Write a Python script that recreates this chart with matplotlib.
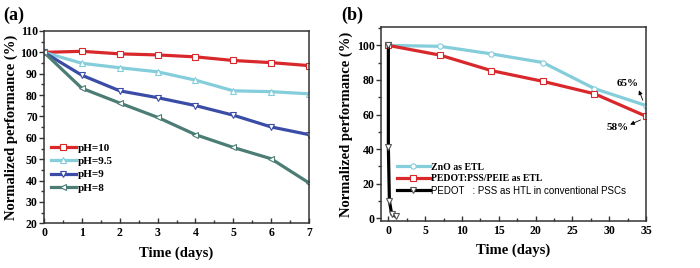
import matplotlib
matplotlib.use("Agg")
import matplotlib.pyplot as plt
from matplotlib.ticker import MultipleLocator

plt.rcParams['font.family'] = ['Liberation Serif', 'DejaVu Serif']
plt.rcParams['font.weight'] = 'bold'

# ---- data panel (a)
days_a = [0, 1, 2, 3, 4, 5, 6, 7]
ph10 = [100, 100.5, 99.3, 98.8, 97.9, 96.2, 95.2, 93.8]
ph95 = [100, 94.9, 92.8, 90.9, 87.0, 82.0, 81.6, 80.6]
ph9 = [100, 89.3, 82.0, 78.8, 75.1, 70.6, 65.1, 61.5]
ph8 = [100, 83.2, 76.3, 69.6, 61.5, 55.5, 50.2, 38.9]
labels_a = ['pH=10', 'pH=9.5', 'pH=9', 'pH=8']

# ---- data panel (b)
days_b = [0, 7, 14, 21, 28, 35]
zno = [100, 99.5, 95.1, 90.1, 75.0, 65.2]
peie = [100, 94.4, 85.4, 79.2, 72.0, 59.0]
days_htl = [0, 0, 0.14, 0.45, 1.0]
htl = [100, 41, 10, 2.3, 1.0]
labels_b = ['ZnO as ETL', 'PEDOT:PSS/PEIE as ETL', 'PEDOT   : PSS as HTL in conventional PSCs']

c_red = '#d8282c'
c_cyan = '#84cddb'
c_blue = '#3a4ca6'
c_teal = '#4c7d74'
spine_c = '#333333'

fig = plt.figure(figsize=(7.0, 2.68), dpi=100)
ax1 = fig.add_axes([44/700, 1-223.3/268, (309-44)/700, (223.3-31)/268])
ax2 = fig.add_axes([381/700, 1-220.7/268, (646-381)/700, (220.7-27.3)/268])

lw = 2.3
ms = 3.8
series_a = [(ph10, c_red, 's'), (ph95, c_cyan, '^'), (ph9, c_blue, 'v'), (ph8, c_teal, '<')]
for (vals, col, mk), lab in zip(series_a, labels_a):
    ax1.plot(days_a, vals, color=col, lw=lw, marker=mk, ms=ms, mfc='white',
             mec=col, mew=0.8, label=lab)

ax1.set_xlim(0, 7)
ax1.set_ylim(20, 110)
ax1.xaxis.set_major_locator(MultipleLocator(1))
ax1.xaxis.set_minor_locator(MultipleLocator(0.5))
ax1.yaxis.set_major_locator(MultipleLocator(10))
ax1.yaxis.set_minor_locator(MultipleLocator(5))
ax1.set_xlabel('Time (days)', fontsize=10.5, fontweight='bold', labelpad=5)
ax1.set_ylabel('Normalized performance (%)', fontsize=10.5, fontweight='bold', labelpad=1)
leg1 = ax1.legend(loc='upper left', bbox_to_anchor=(0.0, 0.45), frameon=False,
                  fontsize=8, handlelength=2.3, handletextpad=0.1, labelspacing=0.3,
                  borderaxespad=0.2)
for t in leg1.get_texts():
    t.set_fontweight('bold')

series_b = [(days_b, zno, c_cyan, 'o'), (days_b, peie, c_red, 's'), (days_htl, htl, 'black', 'v')]
for (xs, vals, col, mk), lab in zip(series_b, labels_b):
    ax2.plot(xs, vals, color=col, lw=lw, marker=mk, ms=ms, mfc='white',
             mec=col if col != 'black' else '#555555', mew=0.8, label=lab)

ax2.set_xlim(-1, 35)
ax2.set_ylim(-1.5, 110.5)
ax2.xaxis.set_major_locator(MultipleLocator(5))
ax2.xaxis.set_minor_locator(MultipleLocator(2.5))
ax2.yaxis.set_major_locator(MultipleLocator(20))
ax2.yaxis.set_minor_locator(MultipleLocator(10))
ax2.set_xlabel('Time (days)', fontsize=10.5, fontweight='bold', labelpad=5)
ax2.set_ylabel('Normalized performance (%)', fontsize=10.5, fontweight='bold', labelpad=3)
leg2 = ax2.legend(loc='upper left', bbox_to_anchor=(0.04, 0.33), frameon=False,
                  fontsize=7, handlelength=3.3, handletextpad=0.15, labelspacing=0.25,
                  borderaxespad=0.2)
for t in leg2.get_texts():
    t.set_fontweight('bold')
leg2.get_texts()[2].set_fontfamily(['Liberation Sans', 'DejaVu Sans'])
leg2.get_texts()[2].set_fontweight('normal')

ax2.text(32.5, 78.2, '65%', fontsize=8, fontweight='bold', ha='center', va='center')
ax2.text(31.2, 52.3, '58%', fontsize=8, fontweight='bold', ha='center', va='center')
ax2.annotate('', xy=(33.9, 75.5), xytext=(34.7, 66.8),
             arrowprops=dict(arrowstyle='-|>', color='black', lw=0.6, mutation_scale=6))
ax2.annotate('', xy=(32.5, 53.5), xytext=(34.6, 57.5),
             arrowprops=dict(arrowstyle='-|>', color='black', lw=0.6, mutation_scale=6))

for ax in (ax1, ax2):
    for s in ax.spines.values():
        s.set_color(spine_c)
        s.set_linewidth(1.1)
    ax.tick_params(axis='y', which='both', direction='out', labelsize=8.5, color=spine_c, width=1)
    ax.tick_params(axis='y', which='major', length=3.5, pad=1)
    ax.tick_params(axis='y', which='minor', length=2)
    ax.tick_params(axis='x', which='both', direction='in', labelsize=8.5, color=spine_c, width=1)
    ax.tick_params(axis='x', which='major', length=3.5, pad=3)
    ax.tick_params(axis='x', which='minor', length=2)
    for lbl in ax.get_xticklabels() + ax.get_yticklabels():
        lbl.set_fontweight('bold')

fig.text(3/700, 1-20/268, '(a)', fontsize=13, fontweight='bold', va='baseline')
fig.text(341/700, 1-20/268, '(b)', fontsize=13, fontweight='bold', va='baseline')

fig.savefig('out.png', dpi=100)
